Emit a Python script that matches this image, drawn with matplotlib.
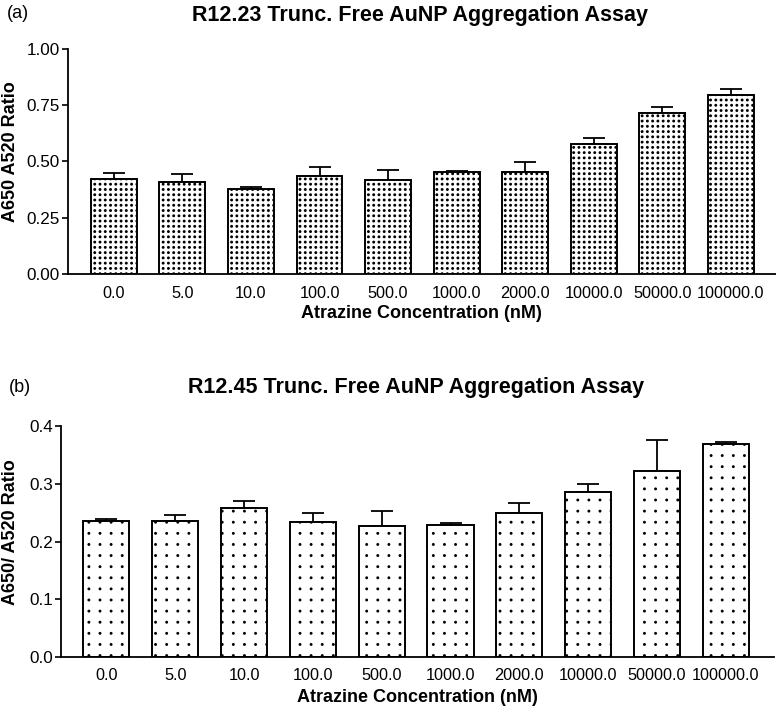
import numpy as np
import matplotlib
matplotlib.use("Agg")
import matplotlib.pyplot as plt
import matplotlib.hatch as mhatch
from matplotlib.path import Path

plt.rcParams["font.family"] = ["Liberation Sans", "DejaVu Sans"]
plt.rcParams["hatch.linewidth"] = 1.0

conc = ["0.0", "5.0", "10.0", "100.0", "500.0", "1000.0", "2000.0",
        "10000.0", "50000.0", "100000.0"]

# panel (a) R12.23
mean_a = [0.421, 0.409, 0.376, 0.437, 0.416, 0.455, 0.455, 0.576, 0.714, 0.797]
err_a  = [0.026, 0.037, 0.012, 0.040, 0.048, 0.004, 0.043, 0.030, 0.030, 0.027]
# panel (b) R12.45
mean_b = [0.235, 0.235, 0.257, 0.233, 0.227, 0.228, 0.250, 0.286, 0.321, 0.369]
err_b  = [0.003, 0.010, 0.013, 0.016, 0.026, 0.004, 0.016, 0.013, 0.054, 0.003]


# square-grid dot hatch (stock '.' hatch staggers rows); one '.' = one dot per inch
class GridDots(mhatch.HatchPatternBase):
    def __init__(self, hatch, density):
        self.num_rows = hatch.count(".")
        circ = Path.unit_circle()
        self.shape_vertices = circ.vertices
        self.shape_codes = circ.codes
        n = self.num_rows
        self.num_vertices = 0 if n == 0 else (n + 1) * (n + 1) * len(circ.vertices)

    def set_vertices_and_codes(self, vertices, codes):
        off = 1.0 / self.num_rows
        sv = self.shape_vertices * 0.0075
        vp, cp = [], []
        for r in range(self.num_rows + 1):
            for c in np.linspace(0, 1, self.num_rows + 1):
                vp.append(sv + [c, r * off])
                cp.append(self.shape_codes)
        np.concatenate(vp, out=vertices)
        np.concatenate(cp, out=codes)

mhatch._hatch_types = [GridDots if h is mhatch.SmallFilledCircles else h
                       for h in mhatch._hatch_types]

W, H = 776, 708
fig = plt.figure(figsize=(W/100, H/100), dpi=100)

def box(l, r, t, b):
    return [l/W, 1 - b/H, (r-l)/W, (b-t)/H]

def panel(ax, vals, errs, hatch, ylim, yticks, fmt, xlim, xpad):
    x = np.arange(len(vals))
    ax.errorbar(x, vals, yerr=[np.zeros(len(errs)), errs], fmt="none",
                ecolor="black", elinewidth=1.3, capsize=8, capthick=1.3, zorder=1)
    ax.bar(x, vals, width=0.67, color="white", edgecolor="black",
           linewidth=1.4, hatch=hatch, zorder=2)
    ax.set_xlim(*xlim)
    ax.set_ylim(*ylim)
    ax.set_yticks(yticks)
    ax.set_yticklabels([fmt % v for v in yticks])
    ax.set_xticks(x)
    ax.set_xticklabels(conc)
    for s in ["top", "right"]:
        ax.spines[s].set_visible(False)
    for s in ["left", "bottom"]:
        ax.spines[s].set_linewidth(1.3)
    ax.tick_params(axis="y", length=4, width=1.2, pad=2, labelsize=12.3)
    ax.tick_params(axis="x", length=0, pad=xpad, labelsize=11.7)

ax1 = fig.add_axes(box(68, 776, 49, 274))
panel(ax1, mean_a, err_a, "." * 19, (0, 1.0), [0, 0.25, 0.5, 0.75, 1.0], "%.2f",
      (-0.67, 9.66), 9)
ax2 = fig.add_axes(box(61, 774, 425.7, 657.3))
panel(ax2, mean_b, err_b, "." * 9, (0, 0.4), [0, 0.1, 0.2, 0.3, 0.4], "%.1f",
      (-0.66, 9.70), 8)

def t(x, y, s, **kw):
    fig.text(x/W, 1 - y/H, s, ha="center", va="center", **kw)

t(420, 15, "R12.23 Trunc. Free AuNP Aggregation Assay", fontsize=15.5, fontweight="bold")
t(18, 14, "(a)", fontsize=13)
t(421, 313, "Atrazine Concentration (nM)", fontsize=13, fontweight="bold")
t(11, 152, "A650 A520 Ratio", fontsize=13, fontweight="bold", rotation=90)

t(416, 388, "R12.45 Trunc. Free AuNP Aggregation Assay", fontsize=15.5, fontweight="bold")
t(20, 388, "(b)", fontsize=13)
t(417, 697, "Atrazine Concentration (nM)", fontsize=13, fontweight="bold")
t(11, 532, "A650/ A520 Ratio", fontsize=13, fontweight="bold", rotation=90)

fig.savefig("out.png", dpi=100)
